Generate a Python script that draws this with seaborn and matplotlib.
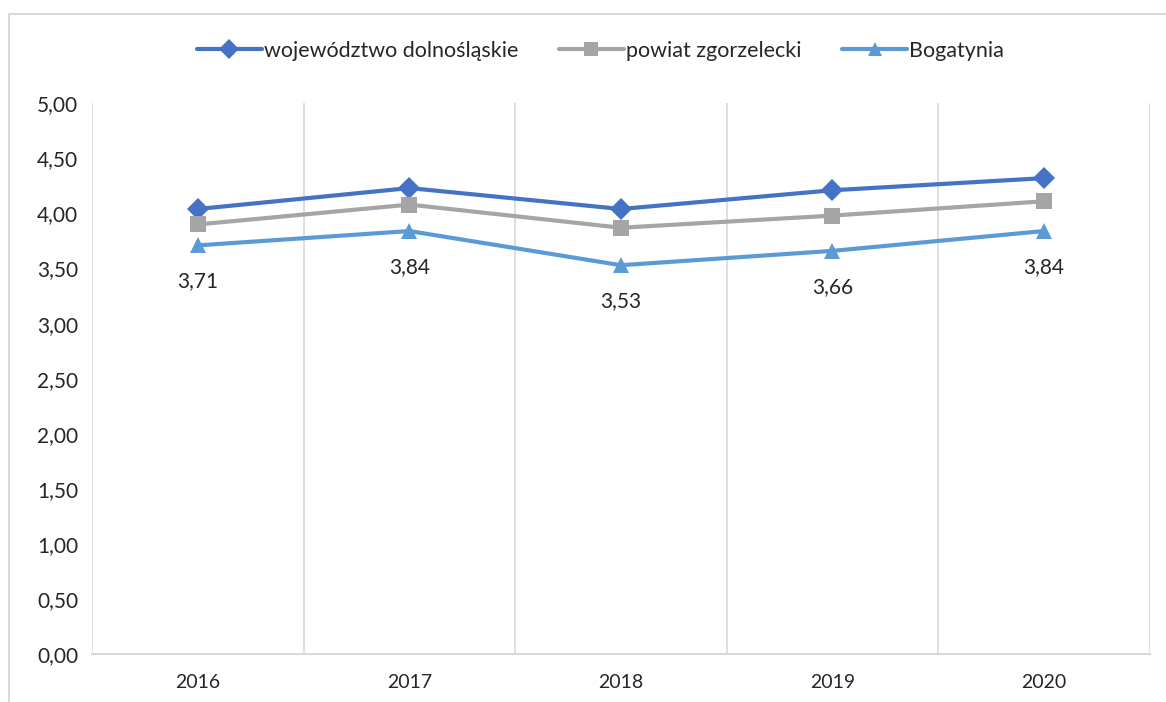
import pandas as pd
import seaborn as sns
import matplotlib.pyplot as plt
from matplotlib.lines import Line2D

years = ["2016", "2017", "2018", "2019", "2020"]
woj = [4.04, 4.23, 4.04, 4.21, 4.32]
powiat = [3.90, 4.08, 3.87, 3.98, 4.11]
bogatynia = [3.71, 3.84, 3.53, 3.66, 3.84]
series_names = ["województwo dolnośląskie", "powiat zgorzelecki", "Bogatynia"]
colors = ["#4472C4", "#A5A5A5", "#5B9BD5"]
marker_list = ["D", "s", "^"]

sns.set_style("white")
plt.rcParams['font.family'] = ['Lato', 'DejaVu Sans']

rows = []
for name, vals in zip(series_names, [woj, powiat, bogatynia]):
    for i, v in enumerate(vals):
        rows.append({"pos": i, "value": v, "series": name})
df = pd.DataFrame(rows)

fig = plt.figure(figsize=(11.66, 7.02), dpi=100)
ax = fig.add_axes([0.079, 0.068, 0.907, 0.785])

sns.lineplot(data=df, x="pos", y="value", hue="series", style="series",
             palette=dict(zip(series_names, colors)),
             markers=dict(zip(series_names, marker_list)),
             dashes=False, linewidth=3, markersize=11, markeredgewidth=0,
             ax=ax, legend=False)

# data labels for Bogatynia
for i, v in enumerate(bogatynia):
    ax.annotate(f"{v:.2f}".replace(".", ","), (i, v), xytext=(0, -26),
                textcoords="offset points", ha="center", va="center",
                fontsize=15, color="#262626")

ax.set_xlim(-0.5, 4.5)
ax.set_ylim(0, 5)
ax.set_yticks([i * 0.5 for i in range(11)])
ax.set_yticklabels([f"{i * 0.5:.2f}".replace(".", ",") for i in range(11)])
ax.set_xticks(range(len(years)))
ax.set_xticklabels(years)
ax.set_xticks([i - 0.5 for i in range(len(years) + 1)], minor=True)
ax.grid(which="minor", axis="x", color="#D9D9D9", linewidth=1.2)
ax.grid(which="major", visible=False)
ax.tick_params(axis="both", which="both", length=0, labelsize=15, colors="#262626")
ax.tick_params(axis="x", pad=14)
ax.tick_params(axis="y", pad=10)
for lbl in ax.get_xticklabels():
    lbl.set_fontsize(14)
ax.set_xlabel("")
ax.set_ylabel("")
for s in ["top", "right", "left"]:
    ax.spines[s].set_visible(False)
ax.spines["bottom"].set_color("#D9D9D9")
ax.spines["bottom"].set_linewidth(1.5)

handles = [Line2D([0], [0], color=c, marker=m, linewidth=3, markersize=10,
                  markeredgewidth=0) for c, m in zip(colors, marker_list)]
fig.legend(handles, series_names, loc="center", bbox_to_anchor=(0.515, 0.928),
           ncol=3, frameon=False, fontsize=15.5, handlelength=3.0,
           handletextpad=0.1, columnspacing=1.9)

# chart area border (left and top visible)
fig.add_artist(Line2D([9 / 1166, 9 / 1166], [0, 1 - 14 / 702],
                      transform=fig.transFigure, color="#D9D9D9", linewidth=1.5))
fig.add_artist(Line2D([9 / 1166, 1], [1 - 14 / 702, 1 - 14 / 702],
                      transform=fig.transFigure, color="#D9D9D9", linewidth=1.5))

fig.savefig("out.png", dpi=100)
